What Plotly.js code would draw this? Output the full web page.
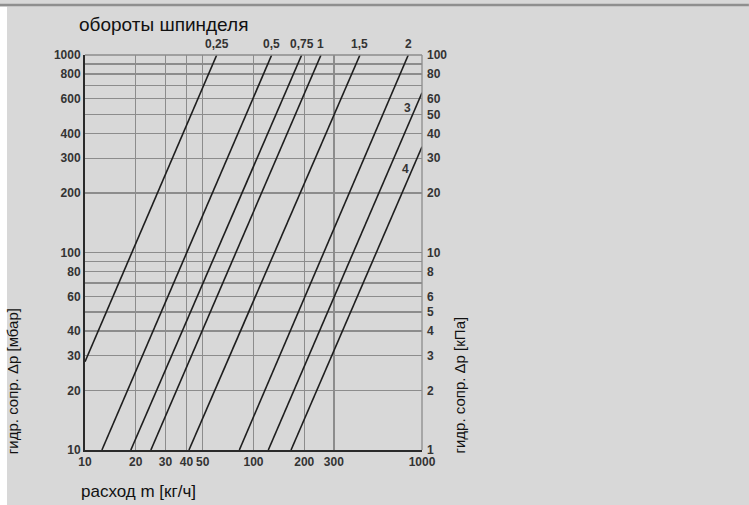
<!DOCTYPE html>
<html>
<head>
<meta charset="utf-8">
<script src="https://cdn.plot.ly/plotly-3.0.1.min.js"></script>
<style>
  html, body { margin: 0; padding: 0; background: #ffffff; }
  #chart { width: 749px; height: 505px; }
</style>
</head>
<body>
<div id="chart"></div>
<script>
// ---- data ----
// spindle turns (line labels)
const turns = ['0,25', '0,5', '0,75', '1', '1,5', '2', '3', '4'];
// each line is straight on log-log axes: start point and end point
const flowStart = [10, 12.6, 18.7, 24.6, 41.4, 82.4, 122.4, 167];     // kg/h
const dpStart   = [28, 10, 10, 10, 10, 10, 10, 10];                    // mbar
const flowEnd   = [60.5, 128.2, 193.2, 251.5, 428.3, 829, 1000, 1000]; // kg/h
const dpEnd     = [1000, 1000, 1000, 1000, 1000, 1000, 644, 343];      // mbar

// axis ticks
const xTicks = [10, 20, 30, 40, 50, 100, 200, 300, 1000];
const yGrid = [10, 20, 30, 40, 50, 60, 70, 80, 90, 100, 200, 300, 400, 500, 600, 700, 800, 900, 1000];
const yLabelled = [10, 20, 30, 40, 60, 80, 100, 200, 300, 400, 600, 800, 1000];
const kpaTicks = [1, 2, 3, 4, 5, 6, 8, 10, 20, 30, 40, 50, 60, 80, 100];

// label positions for lines 3 and 4 (inside the plot)
const innerLabelPos = { '3': [822, 537], '4': [800, 265] };

const tickFont = { family: 'Liberation Sans, Arial, sans-serif', size: 12, weight: 'bold', color: '#333333' };
const titleFont = { family: 'Liberation Sans, Arial, sans-serif', color: '#111' };

const traces = turns.map((t, i) => ({
  type: 'scatter', mode: 'lines',
  x: [flowStart[i], flowEnd[i]],
  y: [dpStart[i], dpEnd[i]],
  line: { color: '#1e1e1e', width: 1.6 },
  name: t, showlegend: false, hoverinfo: 'skip'
}));
// invisible trace to activate the right kPa axis
traces.push({
  type: 'scatter', mode: 'markers', x: [10], y: [1], yaxis: 'y2',
  marker: { opacity: 0 }, showlegend: false, hoverinfo: 'skip'
});

const annotations = [];
turns.forEach((t, i) => {
  if (dpEnd[i] >= 1000) {
    annotations.push({
      text: t, xref: 'x', yref: 'paper',
      x: Math.log10(flowEnd[i]), y: 1.006, xanchor: 'center', yanchor: 'bottom',
      showarrow: false, font: tickFont
    });
  } else {
    const p = innerLabelPos[t];
    annotations.push({
      text: t, xref: 'x', yref: 'y',
      x: Math.log10(p[0]), y: Math.log10(p[1]), xanchor: 'center', yanchor: 'middle',
      showarrow: false, font: tickFont
    });
  }
});
annotations.push({
  text: 'расход m [кг/ч]', xref: 'paper', yref: 'paper',
  x: -0.018, y: -0.075, xanchor: 'left', yanchor: 'top', showarrow: false,
  font: Object.assign({ size: 17 }, titleFont)
});
annotations.push({
  text: 'гидр. сопр. Δp [мбар]', xref: 'paper', yref: 'paper', textangle: -90,
  x: -0.213, y: -0.015, xanchor: 'center', yanchor: 'bottom', showarrow: false,
  font: Object.assign({ size: 15 }, titleFont)
});
annotations.push({
  text: 'гидр. сопр. Δp [кПа]', xref: 'paper', yref: 'paper', textangle: -90,
  x: 1.11, y: -0.015, xanchor: 'center', yanchor: 'bottom', showarrow: false,
  font: Object.assign({ size: 15 }, titleFont)
});

const layout = {
  width: 749, height: 505,
  margin: { l: 85, r: 327, t: 55, b: 55 },
  paper_bgcolor: '#d8d8d8', plot_bgcolor: '#d8d8d8',
  showlegend: false,
  title: {
    text: 'обороты шпинделя', xref: 'container', yref: 'container',
    x: 0.1055, xanchor: 'left', y: 0.952, yanchor: 'middle',
    font: Object.assign({ size: 19 }, titleFont)
  },
  xaxis: {
    type: 'log', range: [1, 3], tickvals: xTicks, ticktext: xTicks.map(String),
    showgrid: true, gridcolor: '#8c8c8c', gridwidth: 1.3,
    showline: true, linecolor: '#2a2a2a', linewidth: 2,
    ticks: '', tickfont: tickFont, zeroline: false, fixedrange: true
  },
  yaxis: {
    type: 'log', range: [1, 3], tickvals: yGrid,
    ticktext: yGrid.map(v => yLabelled.includes(v) ? String(v) : ''),
    showgrid: true, gridcolor: '#8c8c8c', gridwidth: 1.3,
    showline: true, linecolor: '#2a2a2a', linewidth: 2,
    ticks: '', tickfont: tickFont, zeroline: false, fixedrange: true
  },
  yaxis2: {
    type: 'log', range: [0, 2], overlaying: 'y', side: 'right', anchor: 'x',
    tickvals: kpaTicks, ticktext: kpaTicks.map(String),
    showgrid: false, showline: false, ticks: '', tickfont: tickFont,
    ticklabelstandoff: 4,
    zeroline: false, fixedrange: true
  },
  annotations: annotations,
  shapes: [
    { type: 'rect', xref: 'paper', yref: 'paper', layer: 'below',
      x0: -0.2522, x1: -0.2315, y0: -0.14, y1: 1.122,
      fillcolor: '#ffffff', line: { width: 0 } },
    { type: 'line', xref: 'paper', yref: 'paper',
      x0: -0.2522, x1: 1.97, y0: 1.1266, y1: 1.1266,
      line: { color: '#8f8f8f', width: 2.5 } },
    { type: 'line', xref: 'paper', yref: 'paper',
      x0: 1, x1: 1, y0: 0, y1: 1,
      line: { color: '#8c8c8c', width: 1.3 } },
    { type: 'line', xref: 'paper', yref: 'paper',
      x0: 0, x1: 1, y0: 1, y1: 1,
      line: { color: '#8c8c8c', width: 1.3 } }
  ]
};

Plotly.newPlot('chart', traces, layout, { staticPlot: true, displayModeBar: false });
</script>
</body>
</html>
